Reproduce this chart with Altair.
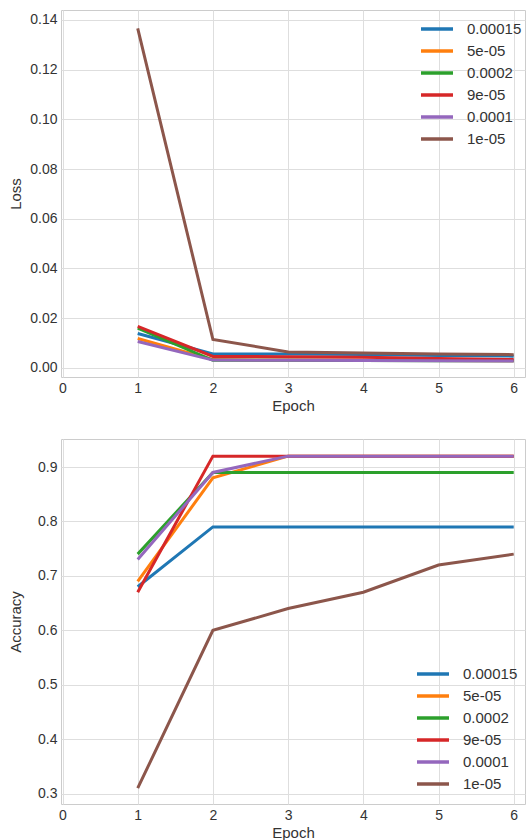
import altair as alt
import pandas as pd

epochs = [1, 2, 3, 4, 5, 6]
series = ["0.00015", "5e-05", "0.0002", "9e-05", "0.0001", "1e-05"]
colors = ["#1f77b4", "#ff7f0e", "#2ca02c", "#d62728", "#9467bd", "#8c564b"]

# Loss per learning rate
loss_00015 = [0.0138, 0.0056, 0.0056, 0.0054, 0.0050, 0.0047]
loss_5e05 = [0.0118, 0.0033, 0.0031, 0.0030, 0.0029, 0.0028]
loss_00002 = [0.0160, 0.0030, 0.0030, 0.0029, 0.0028, 0.0028]
loss_9e05 = [0.0167, 0.0046, 0.0045, 0.0042, 0.0037, 0.0033]
loss_00001 = [0.0106, 0.0031, 0.0030, 0.0029, 0.0028, 0.0027]
loss_1e05 = [0.1366, 0.0114, 0.0064, 0.0060, 0.0056, 0.0053]

# Accuracy per learning rate
acc_00015 = [0.68, 0.79, 0.79, 0.79, 0.79, 0.79]
acc_5e05 = [0.69, 0.88, 0.92, 0.92, 0.92, 0.92]
acc_00002 = [0.74, 0.89, 0.89, 0.89, 0.89, 0.89]
acc_9e05 = [0.67, 0.92, 0.92, 0.92, 0.92, 0.92]
acc_00001 = [0.73, 0.89, 0.92, 0.92, 0.92, 0.92]
acc_1e05 = [0.31, 0.60, 0.64, 0.67, 0.72, 0.74]

loss_ticks = [0.0, 0.02, 0.04, 0.06, 0.08, 0.10, 0.12, 0.14]
acc_ticks = [0.3, 0.4, 0.5, 0.6, 0.7, 0.8, 0.9]
x_ticks = [0, 1, 2, 3, 4, 5, 6]

loss_series = [loss_00015, loss_5e05, loss_00002, loss_9e05, loss_00001, loss_1e05]
acc_series = [acc_00015, acc_5e05, acc_00002, acc_9e05, acc_00001, acc_1e05]


def long_table(values_list):
    rows = []
    for name, vals in zip(series, values_list):
        for e, v in zip(epochs, vals):
            rows.append({"lr": name, "epoch": e, "value": v})
    return pd.DataFrame(rows)


df_loss = long_table(loss_series)
df_acc = long_table(acc_series)

FONT = "Liberation Sans"
TXT = "#333333"


def panel(df, ytitle, ydomain, yfmt, yvals, lx, ly, height):
    return alt.Chart(df).mark_line(strokeWidth=3, clip=True).encode(
        x=alt.X("epoch:Q",
                scale=alt.Scale(domain=[-0.02, 6.15], nice=False, zero=False),
                axis=alt.Axis(values=x_ticks, format="d", title="Epoch",
                              labelFlush=False)),
        y=alt.Y("value:Q",
                scale=alt.Scale(domain=ydomain, nice=False, zero=False),
                axis=alt.Axis(values=yvals, format=yfmt, title=ytitle,
                              minExtent=32, maxExtent=32, titlePadding=6)),
        color=alt.Color("lr:N",
                        scale=alt.Scale(domain=series, range=colors),
                        legend=alt.Legend(title=None, orient="none",
                                          legendX=lx, legendY=ly,
                                          symbolType="M-2,0H2", symbolSize=256,
                                          symbolStrokeWidth=3.5,
                                          labelFontSize=15, labelOffset=20,
                                          rowPadding=4, padding=0)),
    ).properties(width=464, height=height)


top = panel(df_loss, "Loss", [-0.0037, 0.144], ".2f", loss_ticks, 366, 9, 367)
bottom = panel(df_acc, "Accuracy", [0.281, 0.9515], ".1f", acc_ticks, 362, 225, 365)

chart = alt.vconcat(top, bottom, spacing=24).resolve_scale(color="independent").properties(
    padding={"left": 7, "top": 9, "right": 0, "bottom": 0}
).configure_axis(
    labelFont=FONT, labelFontSize=14, labelColor=TXT, labelPadding=4,
    titleFont=FONT, titleFontSize=15, titleFontWeight="normal", titleColor=TXT,
    ticks=False, domain=False, gridColor="#dedede", gridWidth=1,
).configure_axisX(titlePadding=3).configure_view(
    stroke="#cccccc", strokeWidth=1
).configure_legend(
    labelFont=FONT, labelColor=TXT
)

chart.save("out.html", embed_options={"renderer": "svg", "actions": False})
